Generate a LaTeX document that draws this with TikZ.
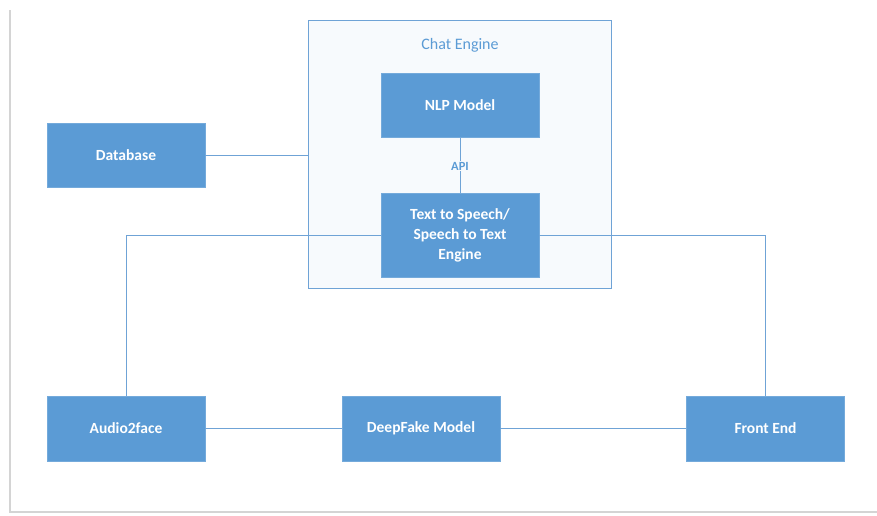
\documentclass[tikz,border=0pt]{standalone}
\usepackage{fontspec}
\setmainfont{Carlito}
\definecolor{boxblue}{HTML}{5B9BD5}
\definecolor{linkblue}{HTML}{6FA3D6}
\definecolor{panel}{HTML}{F7FAFD}
\definecolor{edgegrey}{HTML}{D4D4D4}
\begin{document}
\begin{tikzpicture}[x=1pt,y=-1pt,
  block/.style={draw=boxblue!85!white,fill=boxblue,text=white,font=\bfseries\fontsize{15.5}{20}\selectfont,
    align=center,minimum width=158pt,minimum height=64pt,inner sep=0pt,line width=0.6pt},
  link/.style={draw=linkblue,line width=0.9pt},
  lbl/.style={text=boxblue}]
\useasboundingbox (0,0) rectangle (877,515);
% page edge
\draw[edgegrey,line width=1.2pt] (10,10) -- (10,512) -- (877,512);
% chat engine container
\node[draw=linkblue,fill=panel,line width=0.9pt,minimum width=303pt,minimum height=268pt,inner sep=0pt]
  (chat) at (459.5,154) {};
\node[lbl,font=\fontsize{16}{18}\selectfont] (chatlbl) at (460,45) {Chat Engine};
% blocks
\node[block] (nlp) at (460,105.5) {NLP Model};
\node[block,minimum height=84pt] (tts) at (460,235) {Text to Speech/\\Speech to Text\\Engine};
\node[block] (db) at (126,155) {Database};
\node[block,minimum height=65pt] (a2f) at (126,428.5) {Audio2face};
\node[block,minimum height=65pt] (deep) at (421,428.5) {DeepFake Model};
\node[block,minimum height=65pt] (front) at (765.5,428.5) {Front End};
% API label
\node[lbl,font=\bfseries\fontsize{12.5}{14}\selectfont,inner sep=1pt] (api) at (460,166) {API};
% connectors
\draw[link] (nlp.south) -- (api.north);
\draw[link] (api.south) -- (tts.north);
\draw[link] (db.east) -- (db.east -| chat.west);
\draw[link] (tts.west) -- (tts.west -| a2f.north) -- (a2f.north);
\draw[link] (tts.east) -- (tts.east -| front.north) -- (front.north);
\draw[link] (a2f.east) -- (deep.west);
\draw[link] (deep.east) -- (front.west);
\end{tikzpicture}
\end{document}
